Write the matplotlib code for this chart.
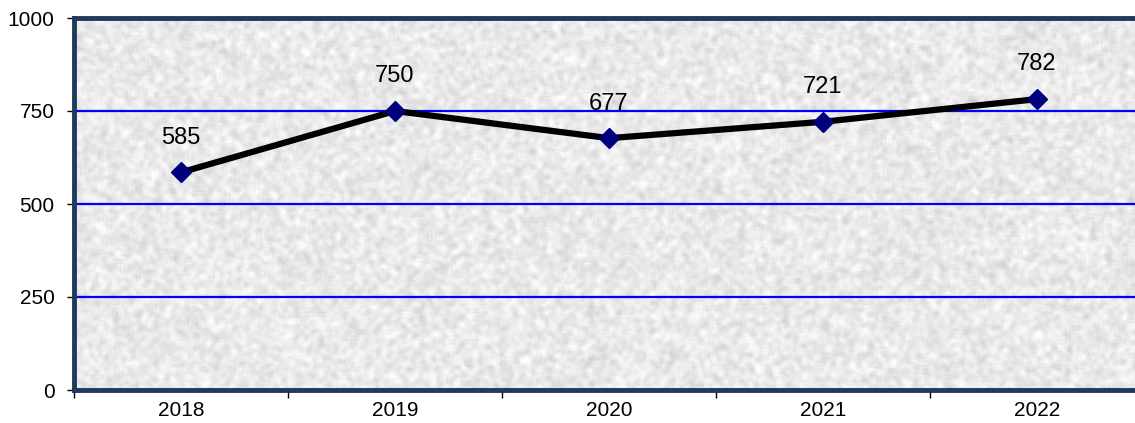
import numpy as np
import matplotlib.pyplot as plt

plt.rcParams['font.family'] = ['Liberation Sans', 'DejaVu Sans']

years = ['2018', '2019', '2020', '2021', '2022']
values = [585, 750, 677, 721, 782]
yticks = [0, 250, 500, 750, 1000]

fig = plt.figure(figsize=(11.35, 4.23), dpi=100)
ax = fig.add_axes([74 / 1135, 33 / 423, 1070 / 1135, 372 / 423])

x = np.arange(len(years))
ax.set_xlim(-0.5, len(years) - 0.5)
ax.set_ylim(0, 1000)

# marble-like gray background texture
rng = np.random.default_rng(3)
noise = rng.random((190, 540))
k = np.ones(3) / 3
noise = np.apply_along_axis(lambda r: np.convolve(r, k, mode='same'), 1, noise)
noise = np.apply_along_axis(lambda c: np.convolve(c, k, mode='same'), 0, noise)
noise = (noise - noise.mean()) / noise.std()
tex = np.clip(0.915 + 0.03 * noise, 0.8, 1.0)
ax.imshow(tex, cmap='gray', vmin=0, vmax=1, extent=(-0.5, len(years) - 0.5, 0, 1000),
          aspect='auto', interpolation='bilinear', zorder=0)

for yv in yticks[1:-1]:
    ax.axhline(yv, color='#0000ff', linewidth=1.6, zorder=1)

ax.plot(x, values, color='black', linewidth=4.5, marker='D', markersize=10.5,
        markerfacecolor='#00007f', markeredgecolor='#00007f', zorder=3)

for xi, v in zip(x, values):
    ax.annotate(str(v), (xi, v), textcoords='offset points', xytext=(0, 17),
                ha='center', va='bottom', fontsize=17, color='black')

ax.set_yticks(yticks)
ax.set_yticklabels([str(t) for t in yticks], fontsize=15)
ax.set_xticks(x)
ax.set_xticklabels(years, fontsize=15)
ax.tick_params(axis='x', which='major', length=0, pad=8)
ax.set_xticks(np.arange(-0.5, len(years), 1.0), minor=True)
ax.tick_params(axis='x', which='minor', length=6, width=1, color='black', direction='out')
ax.tick_params(axis='y', length=5, width=1, color='black', direction='out', pad=9)

for side in ['left', 'bottom', 'top']:
    ax.spines[side].set_color('#1f3a5c')
    ax.spines[side].set_linewidth(3.5)
ax.spines['right'].set_visible(False)

fig.savefig('out.png', dpi=100)
